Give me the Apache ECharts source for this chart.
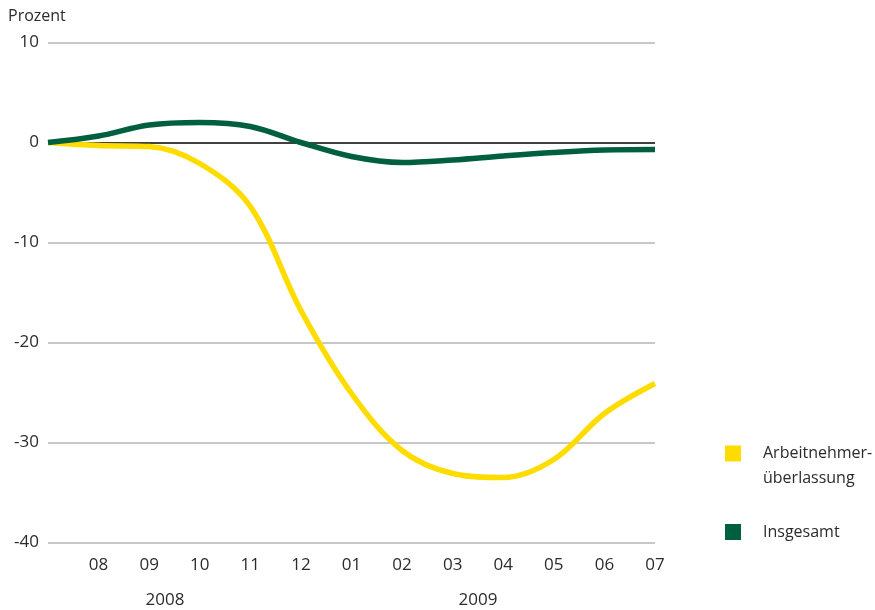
<!DOCTYPE html>
<html>
<head>
<meta charset="utf-8">
<script src="https://cdn.jsdelivr.net/npm/echarts@6/dist/echarts.min.js"></script>
<style>
  html, body { margin: 0; padding: 0; background: #fff; }
  #chart { width: 875px; height: 610px; }
</style>
</head>
<body>
<div id="chart"></div>
<script>
// Monthly change since July 2008, in percent
const months = ['07', '08', '09', '10', '11', '12', '01', '02', '03', '04', '05', '06', '07'];
const zeitarbeit = [0, -0.3, -0.4, -2.1, -6.4, -16.8, -25.1, -30.8, -33.1, -33.5, -31.7, -27.1, -24.1];
const insgesamt = [0, 0.65, 1.75, 2.0, 1.6, 0.0, -1.4, -2.0, -1.75, -1.35, -1.0, -0.75, -0.7];
const yTicks = [-40, -30, -20, -10, 0, 10];
const years = [{ text: '2008', x: 165 }, { text: '2009', x: 478 }];

const FONT = '"Open Sans", sans-serif';
const TEXT = '#2b2b2b';
const YELLOW = '#FFDC00';
const GREEN = '#005F3F';

const chart = echarts.init(document.getElementById('chart'), null, { renderer: 'canvas' });

chart.setOption({
  animation: false,
  textStyle: { fontFamily: FONT, color: TEXT },
  grid: { left: 48, right: 220, top: 42.5, bottom: 67.5, containLabel: false },
  xAxis: {
    type: 'category',
    data: months,
    boundaryGap: false,
    axisLine: { show: false },
    axisTick: { show: false },
    splitLine: { show: false },
    axisLabel: {
      interval: 0,
      margin: 14,
      fontSize: 17,
      color: TEXT,
      fontFamily: FONT,
      formatter: (v, i) => (i === 0 ? '' : v)
    }
  },
  yAxis: {
    type: 'value',
    min: yTicks[0],
    max: yTicks[yTicks.length - 1],
    interval: 10,
    axisLine: { show: false },
    axisTick: { show: false },
    axisLabel: { margin: 9, fontSize: 17, color: TEXT, fontFamily: FONT },
    splitLine: {
      lineStyle: {
        width: 1.5,
        color: yTicks.map(v => (v === 0 ? '#000000' : '#b4b4b4'))
      }
    }
  },
  legend: [
    {
      left: 720,
      top: 411,
      orient: 'vertical',
      itemWidth: 16,
      itemHeight: 16,
      icon: 'rect',
      data: [{ name: 'Arbeitnehmer-\nüberlassung' }],
      // blank first line keeps the marker level with "Arbeitnehmer-"
      formatter: name => '\n' + name,
      textStyle: { fontSize: 16, color: TEXT, fontFamily: FONT, lineHeight: 25, padding: [0, 0, 0, 17] }
    },
    {
      left: 720,
      top: 519,
      orient: 'vertical',
      itemWidth: 16,
      itemHeight: 16,
      icon: 'rect',
      data: [{ name: 'Insgesamt' }],
      textStyle: { fontSize: 16, color: TEXT, fontFamily: FONT, padding: [0, 0, 0, 17] }
    }
  ],
  graphic: [
    {
      type: 'text',
      left: 8,
      top: 8,
      style: { text: 'Prozent', font: '16px ' + FONT, fill: TEXT }
    }
  ].concat(years.map(y => ({
    type: 'text',
    x: y.x,
    y: 600,
    style: { text: y.text, font: '17px ' + FONT, fill: TEXT, align: 'center', verticalAlign: 'middle' }
  }))),
  series: [
    {
      name: 'Arbeitnehmer-\nüberlassung',
      type: 'line',
      data: zeitarbeit,
      smooth: 0.35,
      symbol: 'none',
      lineStyle: { color: YELLOW, width: 5.5 },
      itemStyle: { color: YELLOW }
    },
    {
      name: 'Insgesamt',
      type: 'line',
      data: insgesamt,
      smooth: 0.35,
      symbol: 'none',
      lineStyle: { color: GREEN, width: 5.5 },
      itemStyle: { color: GREEN }
    }
  ]
});
</script>
</body>
</html>
